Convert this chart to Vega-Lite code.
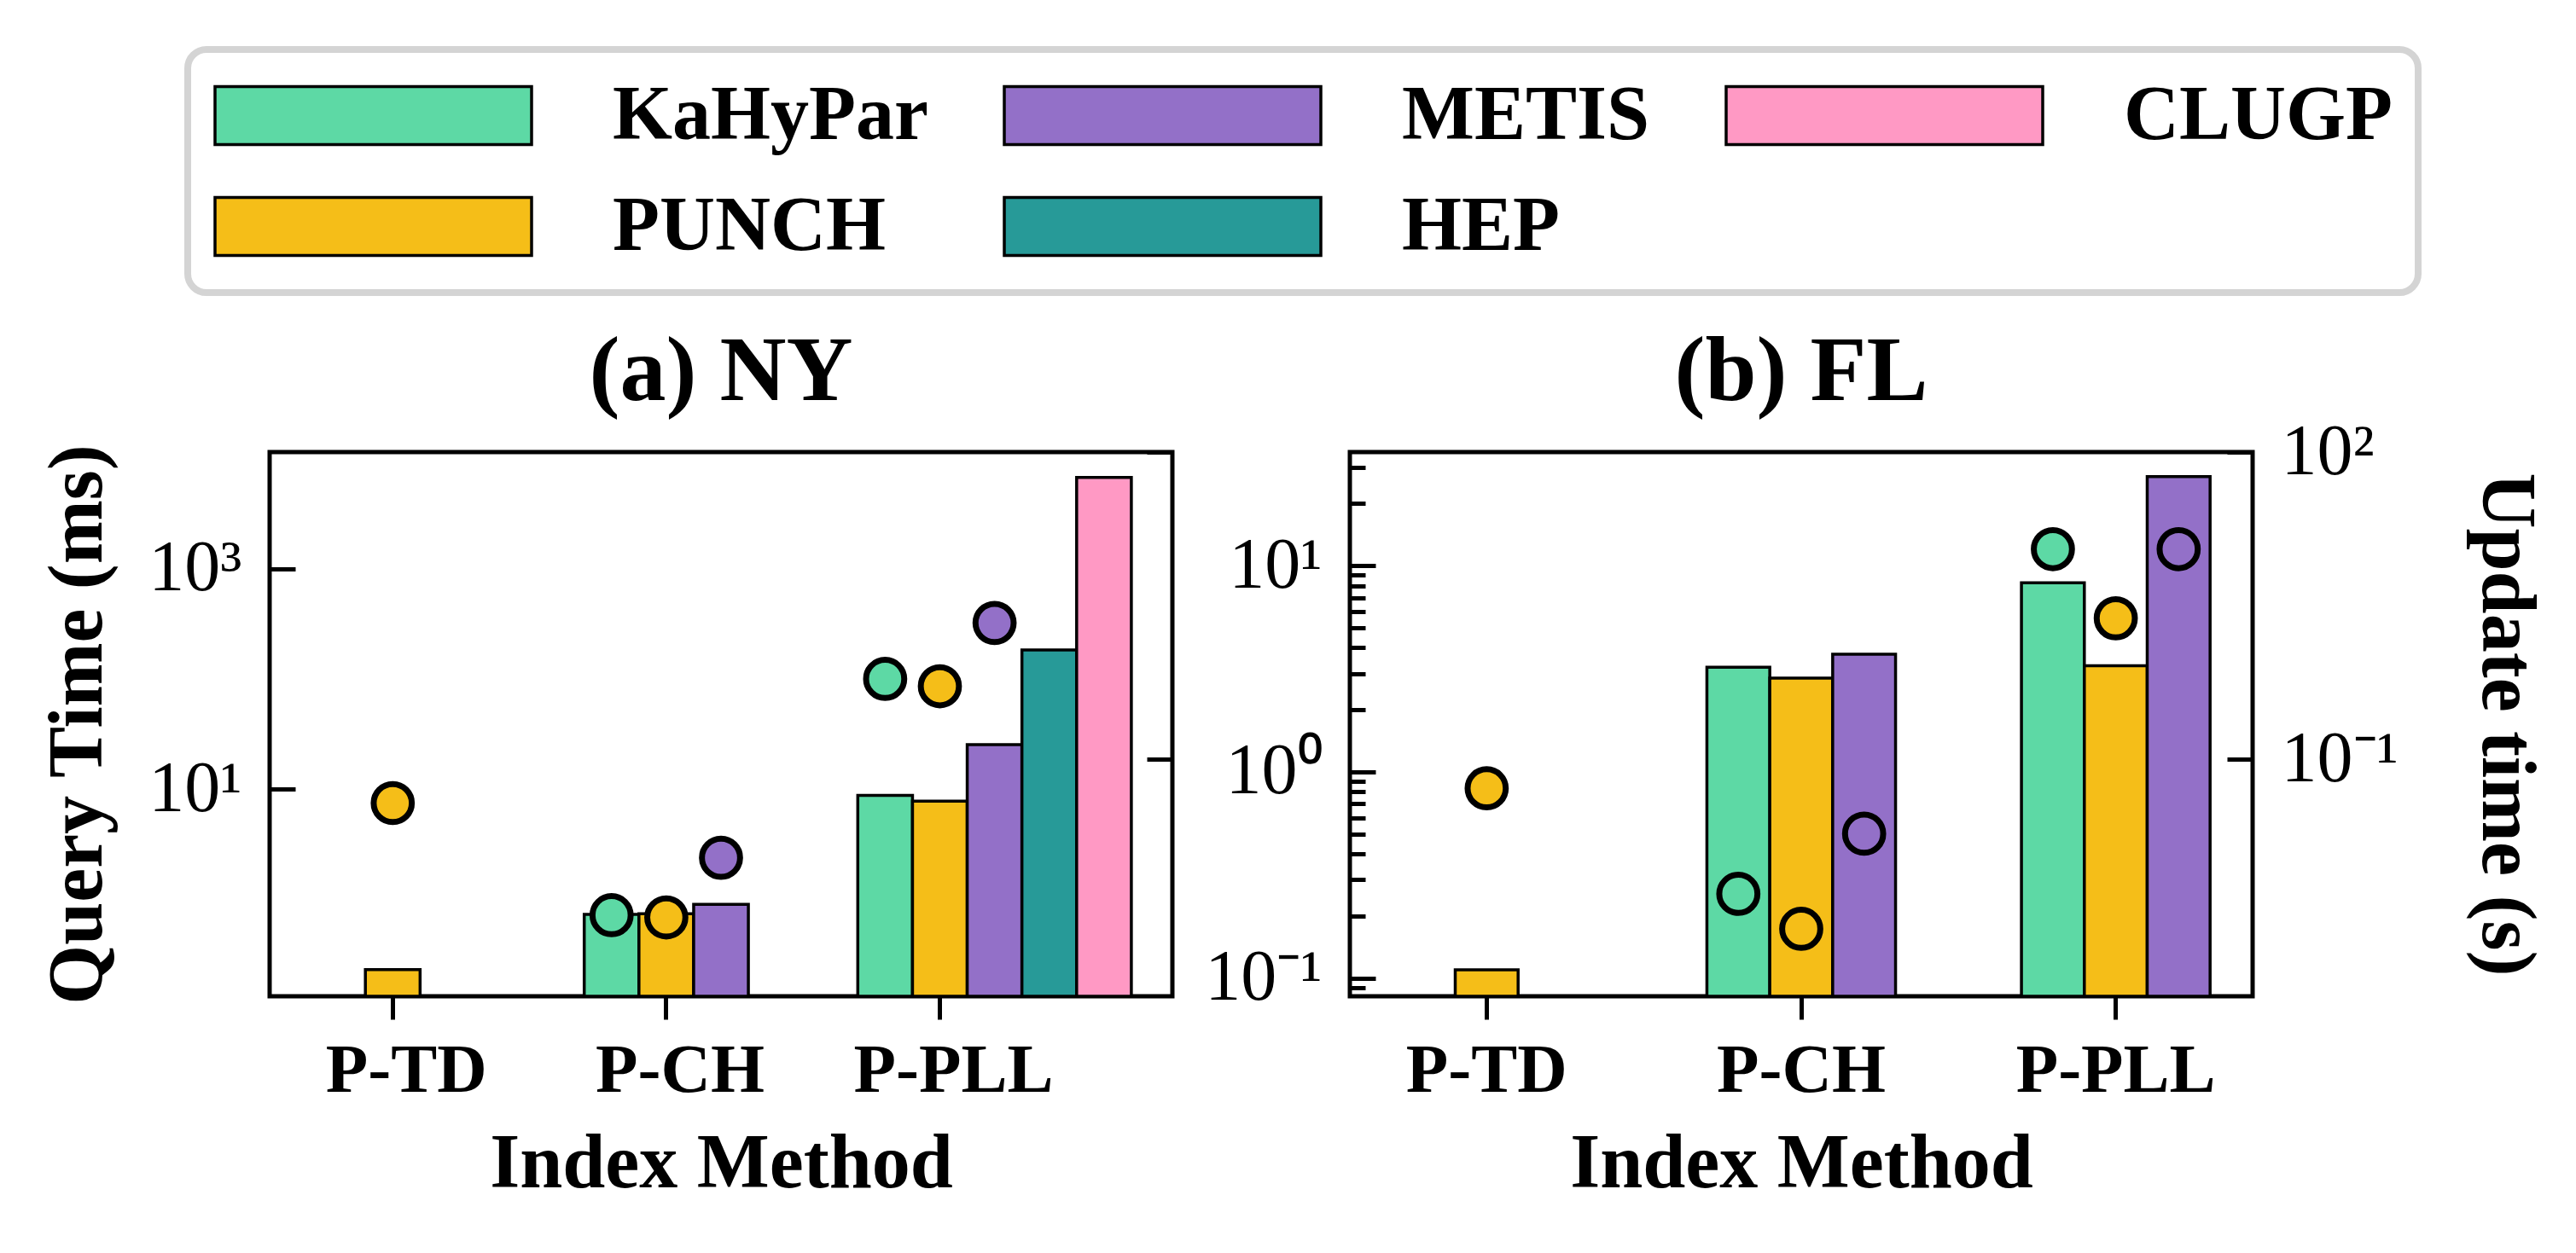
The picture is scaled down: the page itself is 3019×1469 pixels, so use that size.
{
  "$schema": "https://vega.github.io/schema/vega-lite/v6.json",
  "background": "white",
  "padding": {"left": 44, "top": 54, "right": 20, "bottom": 20},
  "data": {
    "values": [
      {"city": "NY", "index": "P-TD", "method": "PUNCH", "query": 0.23, "update": 0.0376},
      {"city": "NY", "index": "P-CH", "method": "KaHyPar", "query": 0.73, "update": 0.00303},
      {"city": "NY", "index": "P-CH", "method": "PUNCH", "query": 0.74, "update": 0.00288},
      {"city": "NY", "index": "P-CH", "method": "METIS", "query": 0.9, "update": 0.011},
      {"city": "NY", "index": "P-PLL", "method": "KaHyPar", "query": 8.8, "update": 0.612},
      {"city": "NY", "index": "P-PLL", "method": "PUNCH", "query": 7.8, "update": 0.519},
      {"city": "NY", "index": "P-PLL", "method": "METIS", "query": 25.4, "update": 2.15},
      {"city": "NY", "index": "P-PLL", "method": "HEP", "query": 184, "update": null},
      {"city": "NY", "index": "P-PLL", "method": "CLUGP", "query": 6780, "update": null},
      {"city": "FL", "index": "P-TD", "method": "PUNCH", "query": 0.11, "update": 0.0524},
      {"city": "FL", "index": "P-CH", "method": "KaHyPar", "query": 3.22, "update": 0.00489},
      {"city": "FL", "index": "P-CH", "method": "PUNCH", "query": 2.85, "update": 0.00223},
      {"city": "FL", "index": "P-CH", "method": "METIS", "query": 3.72, "update": 0.0189},
      {"city": "FL", "index": "P-PLL", "method": "KaHyPar", "query": 8.26, "update": 11.3},
      {"city": "FL", "index": "P-PLL", "method": "PUNCH", "query": 3.27, "update": 2.39},
      {"city": "FL", "index": "P-PLL", "method": "METIS", "query": 27.0, "update": 11.3}
    ]
  },
  "spacing": 208,
  "bounds": "flush",
  "resolve": {"scale": {"color": "shared", "x": "independent", "y": "independent", "xOffset": "independent"}},
  "hconcat": [
    {
      "width": 1058,
      "height": 638,
      "title": {"text": "(a) NY"},
      "transform": [{"filter": "datum.city == 'NY'"}],
      "layer": [
        {
          "mark": {"type": "bar", "stroke": "black", "strokeWidth": 3.5},
          "encoding": {
            "x": {
              "field": "index", "type": "nominal",
              "scale": {"domain": ["P-TD", "P-CH", "P-PLL"], "paddingInner": 0, "paddingOuter": 0.15, "align": 0},
              "axis": {"title": "Index Method", "bandPosition": 0.45, "labelAngle": 0}
            },
            "xOffset": {
              "field": "method", "type": "nominal",
              "scale": {"domain": ["KaHyPar", "PUNCH", "METIS", "HEP", "CLUGP"], "range": [48.1, 368.7], "paddingInner": 0, "paddingOuter": 0}
            },
            "y": {
              "field": "query", "type": "quantitative",
              "scale": {"type": "log", "domain": [0.132, 11500], "nice": false},
              "axis": {
                "title": "Query Time (ms)",
                "values": [10, 1000],
                "labelExpr": "datum.value == 10 ? '10¹' : '10³'",
                "tickSize": -30,
                "labelPadding": 63,
                "titlePadding": 36
              }
            },
            "y2": {"datum": 0.132},
            "color": {
              "field": "method", "type": "nominal",
              "scale": {"domain": ["KaHyPar", "METIS", "CLUGP", "PUNCH", "HEP"], "range": ["#5DD9A5", "#9370C8", "#FF99C4", "#F5BE18", "#279A98"]},
              "legend": {
                "title": null,
                "orient": "none",
                "legendX": -96,
                "legendY": -472,
                "direction": "horizontal",
                "columns": 3,
                "symbolType": "M-1,-0.183H1V0.183H-1Z",
                "symbolSize": 137641,
                "symbolOpacity": 1,
                "symbolStrokeColor": "black",
                "symbolStrokeWidth": 3.5,
                "labelOffset": 93,
                "columnPadding": 87,
                "rowPadding": 35,
                "clipHeight": 95,
                "padding": 30,
                "fillColor": "white",
                "strokeColor": "#d4d4d4",
                "cornerRadius": 22,
                "gridAlign": "each",
                "encode": {"symbols": {"update": {"stroke": {"value": "black"}, "strokeWidth": {"value": 3.5}}}}
              }
            }
          }
        },
        {
          "transform": [{"filter": "isValid(datum.update)"}],
          "mark": {"type": "point", "shape": "circle", "filled": true, "size": 2000, "stroke": "black", "strokeWidth": 7, "opacity": 1},
          "encoding": {
            "x": {"field": "index", "type": "nominal"},
            "xOffset": {"field": "method", "type": "nominal"},
            "y": {
              "field": "update", "type": "quantitative",
              "scale": {"type": "log", "domain": [0.00049, 100], "nice": false},
              "axis": {
                "orient": "right",
                "title": null,
                "values": [0.1, 100],
                "labelExpr": "datum.value == 100 ? '10²' : ''",
                "labelOpacity": 0,
                "tickSize": -30,
                "labelPadding": 63
              }
            },
            "color": {
              "field": "method", "type": "nominal",
              "scale": {"domain": ["KaHyPar", "METIS", "CLUGP", "PUNCH", "HEP"], "range": ["#5DD9A5", "#9370C8", "#FF99C4", "#F5BE18", "#279A98"]},
              "legend": null
            }
          }
        }
      ],
      "resolve": {"scale": {"y": "independent"}}
    },
    {
      "width": 1058,
      "height": 638,
      "title": {"text": "(b) FL"},
      "transform": [{"filter": "datum.city == 'FL'"}],
      "layer": [
        {
          "mark": {"type": "bar", "stroke": "black", "strokeWidth": 3.5},
          "encoding": {
            "x": {
              "field": "index", "type": "nominal",
              "scale": {"domain": ["P-TD", "P-CH", "P-PLL"], "paddingInner": 0.13, "paddingOuter": 0},
              "axis": {"title": "Index Method", "bandPosition": 0.5, "labelAngle": 0}
            },
            "xOffset": {
              "field": "method", "type": "nominal",
              "scale": {"domain": ["KaHyPar", "PUNCH", "METIS"], "range": [49.8, 270.9], "paddingInner": 0, "paddingOuter": 0}
            },
            "y": {
              "field": "query", "type": "quantitative",
              "scale": {"type": "log", "domain": [0.0818, 35.5], "nice": false},
              "axis": {
                "title": null,
                "values": [0.09, 0.1, 0.2, 0.3, 0.4, 0.5, 0.6, 0.7, 0.8, 0.9, 1, 2, 3, 4, 5, 6, 7, 8, 9, 10, 20, 30],
                "labelExpr": "datum.value == 0.1 ? '10⁻¹' : datum.value == 1 ? '10⁰' : datum.value == 10 ? '10¹' : ''",
                "tickSize": {"condition": {"test": "datum.value == 0.1 || datum.value == 1 || datum.value == 10", "value": -30}, "value": -18},
                "labelPadding": 63
              }
            },
            "y2": {"datum": 0.0818},
            "color": {
              "field": "method", "type": "nominal",
              "scale": {"domain": ["KaHyPar", "METIS", "CLUGP", "PUNCH", "HEP"], "range": ["#5DD9A5", "#9370C8", "#FF99C4", "#F5BE18", "#279A98"]},
              "legend": null
            }
          }
        },
        {
          "transform": [{"filter": "isValid(datum.update)"}],
          "mark": {"type": "point", "shape": "circle", "filled": true, "size": 2000, "stroke": "black", "strokeWidth": 7, "opacity": 1},
          "encoding": {
            "x": {"field": "index", "type": "nominal"},
            "xOffset": {"field": "method", "type": "nominal"},
            "y": {
              "field": "update", "type": "quantitative",
              "scale": {"type": "log", "domain": [0.00049, 100], "nice": false},
              "axis": {
                "orient": "right",
                "title": "Update time (s)",
                "values": [0.1, 100],
                "labelExpr": "datum.value == 100 ? '10²' : '10⁻¹'",
                "tickSize": -30,
                "labelPadding": 63,
                "titlePadding": 80
              }
            },
            "color": {
              "field": "method", "type": "nominal",
              "scale": {"domain": ["KaHyPar", "METIS", "CLUGP", "PUNCH", "HEP"], "range": ["#5DD9A5", "#9370C8", "#FF99C4", "#F5BE18", "#279A98"]},
              "legend": null
            }
          }
        }
      ],
      "resolve": {"scale": {"y": "independent"}}
    }
  ],
  "config": {
    "font": "Liberation Serif",
    "view": {"stroke": "black", "strokeWidth": 5},
    "axis": {
      "domain": false,
      "grid": false,
      "tickColor": "black",
      "tickWidth": 5,
      "labelColor": "black",
      "labelFont": "Liberation Serif",
      "labelFontSize": 84,
      "labelFontWeight": "normal",
      "labelLimit": 1000,
      "titleColor": "black",
      "titleFont": "Liberation Serif",
      "titleFontSize": 90,
      "titleFontWeight": "bold"
    },
    "axisX": {
      "tickSize": 27,
      "labelFontSize": 81,
      "labelFontWeight": "bold",
      "labelPadding": 20,
      "titlePadding": 25
    },
    "legend": {
      "labelFont": "Liberation Serif",
      "labelFontSize": 90,
      "labelFontWeight": "bold",
      "labelColor": "black",
      "labelLimit": 1000,
      "strokeWidth": 8
    },
    "title": {
      "font": "Liberation Serif",
      "fontSize": 108,
      "fontWeight": "bold",
      "color": "black",
      "anchor": "middle",
      "offset": -4
    }
  }
}
